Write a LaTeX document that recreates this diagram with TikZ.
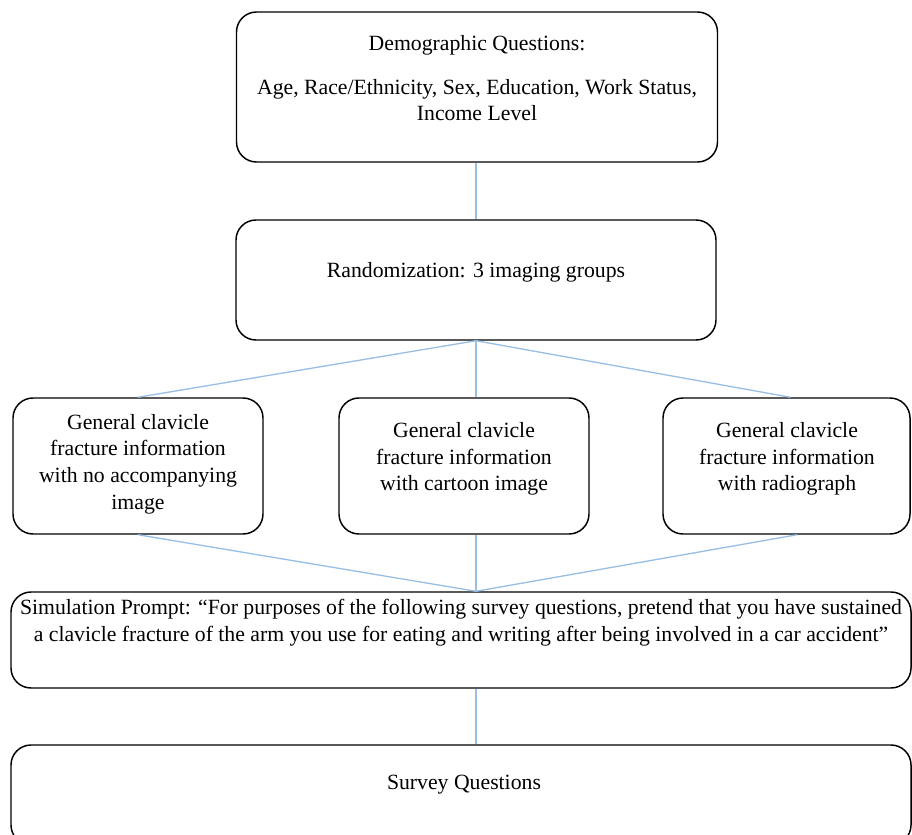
\documentclass[tikz,border=0pt]{standalone}
\usepackage{fontspec}
\setmainfont{Liberation Serif}
\usetikzlibrary{positioning}
\definecolor{linkblue}{RGB}{152,192,228}
\begin{document}
\begin{tikzpicture}[
    x = 0.75pt, y = -0.75pt,
    box/.style  = {draw, line width = 1.1pt, rounded corners = 15pt, inner sep = 0pt},
    txt/.style  = {align = center, inner sep = 0pt, font = \fontsize{16.3}{20}\selectfont},
    link/.style = {draw = linkblue, line width = 1pt}
  ]
  \useasboundingbox (0,0) rectangle (912,834);
  \clip (0,0) rectangle (912,834);
  % boxes
  \node[box, minimum width = 360.75pt, minimum height = 112.5pt] (demo)   at (477, 87)    {};
  \node[box, minimum width = 360pt,    minimum height = 90pt]    (rand)   at (476, 280)   {};
  \node[box, minimum width = 187.5pt,  minimum height = 102pt]   (left)   at (138, 466)   {};
  \node[box, minimum width = 187.5pt,  minimum height = 102pt]   (mid)    at (464, 466)   {};
  \node[box, minimum width = 185.25pt, minimum height = 102pt]   (right)  at (786.5, 466) {};
  \node[box, minimum width = 675pt,    minimum height = 72pt]    (sim)    at (461, 640)   {};
  \node[box, minimum width = 675pt,    minimum height = 75pt]    (survey) at (461, 795)   {};
  % texts
  \node[txt] (demotxt) at (477, 78)
    {Demographic Questions:\\[13pt] Age, Race/Ethnicity, Sex, Education, Work Status,\\ Income Level};
  \node[txt] (randtxt)  at (476, 272) {Randomization: 3 imaging groups};
  \node[txt] (lefttxt)  at (138, 464) {General clavicle\\ fracture information\\ with no accompanying\\ image};
  \node[txt] (midtxt)   at (464, 459) {General clavicle\\ fracture information\\ with cartoon image};
  \node[txt] (righttxt) at (787, 459) {General clavicle\\ fracture information\\ with radiograph};
  \node[txt] (simtxt)   at (461, 623)
    {Simulation Prompt: ``For purposes of the following survey questions, pretend that you have sustained\\
     a clavicle fracture of the arm you use for eating and writing after being involved in a car accident''};
  \node[txt] (surveytxt) at (464, 785) {Survey Questions};
  % connectors
  \coordinate (fanin)  at (rand.south |- sim.north);
  \coordinate (simout) at (rand.south |- sim.south);
  \draw[link] (rand.north |- demo.south) -- (rand.north);
  \draw[link] (rand.south) -- (left.north);
  \draw[link] (rand.south) -- (rand.south |- mid.north);
  \draw[link] (rand.south) -- ([xshift = 3pt]right.north);
  \draw[link] (left.south) -- (fanin);
  \draw[link] (rand.south |- mid.south) -- (fanin);
  \draw[link] ([xshift = 8pt]right.south) -- (fanin);
  \draw[link] (simout) -- (simout |- survey.north);
\end{tikzpicture}
\end{document}
